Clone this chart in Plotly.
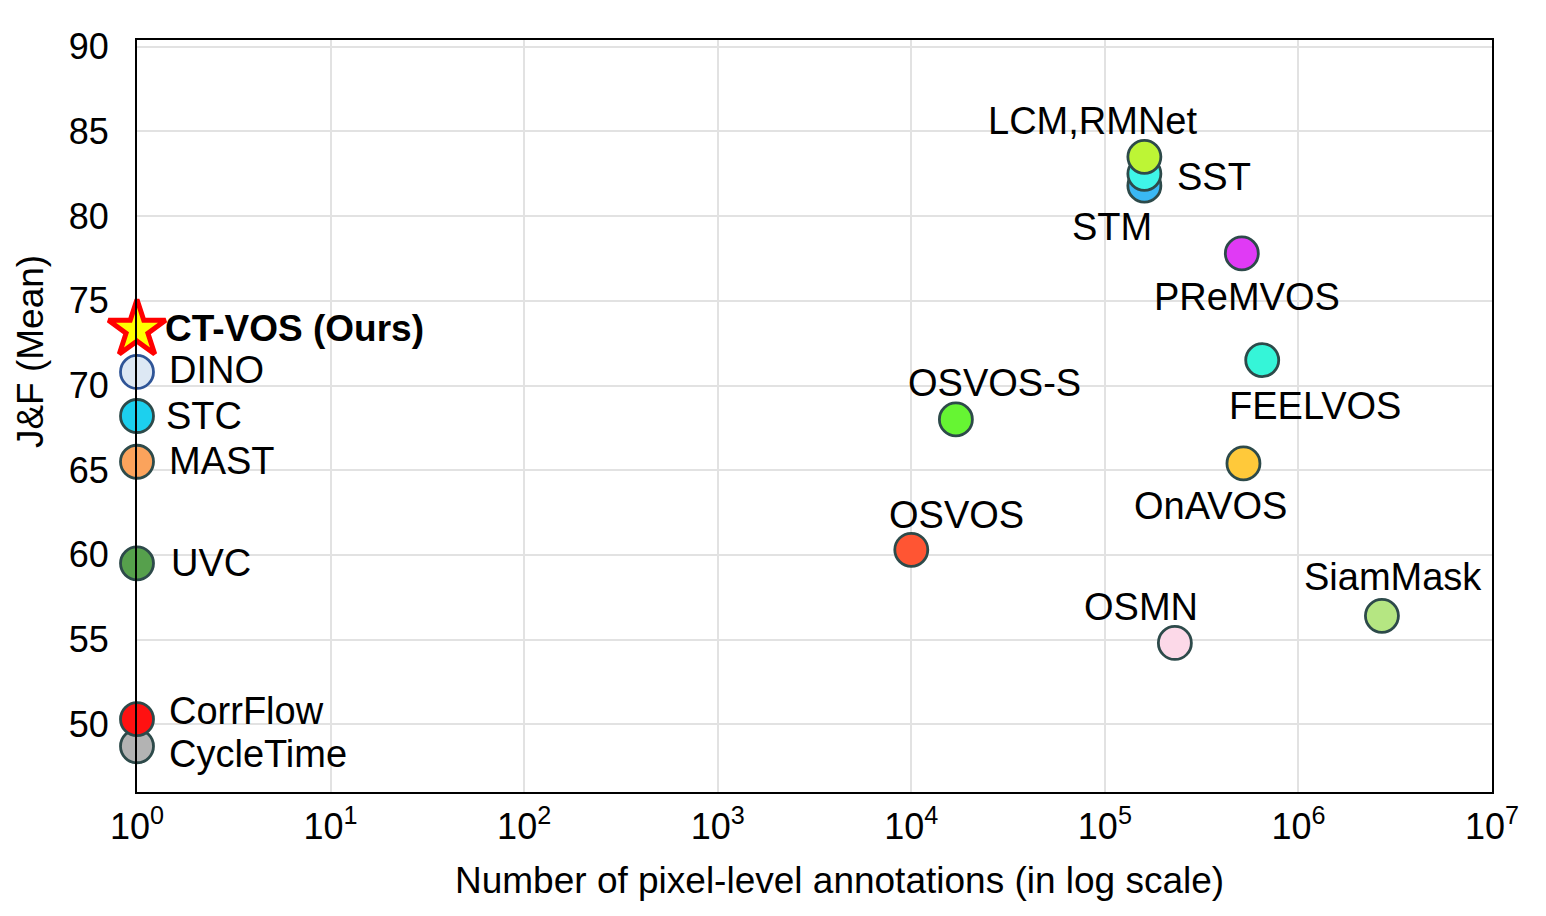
import math
import plotly.graph_objects as go

# methods drawn as circles (order = drawing order, later ones on top)
methods = ["CycleTime", "CorrFlow", "UVC", "MAST", "STC", "DINO",
           "OSVOS", "OSVOS-S", "OSMN", "STM", "SST", "LCM,RMNet",
           "OnAVOS", "PReMVOS", "FEELVOS", "SiamMask"]
n_annotations = [1, 1, 1, 1, 1, 1,
                 1e4, 1.7e4, 2.3e5, 1.6e5, 1.6e5, 1.6e5,
                 5.2e5, 5.1e5, 6.5e5, 2.7e6]
jf_mean = [48.7, 50.3, 59.5, 65.5, 68.2, 70.8,
           60.3, 68.0, 54.8, 81.8, 82.5, 83.5,
           65.4, 77.8, 71.5, 56.4]

ours_name = "CT-VOS (Ours)"
ours_annotations = [1]
ours_jf = [73.3]

x_ticks = [1, 10, 1e2, 1e3, 1e4, 1e5, 1e6, 1e7]
x_ticktext = ["10<sup>%d</sup>" % i for i in range(8)]
y_ticks = [50, 55, 60, 65, 70, 75, 80, 85, 90]

fill_colors = ["#b3b3b3", "#ff1111", "#56a04c", "#fba35c", "#1cd0ee", "#dde8f4",
               "#ff5533", "#66f533", "#fcd9e8", "#3ab8f5", "#3ff5e8", "#bdf535",
               "#ffc93a", "#e03af5", "#35f5d8", "#b5e682"]
edge_colors = ["#2d4a4a"] * 5 + ["#2f5597"] + ["#2d4a4a"] * 10

# label placement: (xshift, yshift, xanchor) in pixels relative to the point
label_style = {
    "CycleTime": (30, -8, "left"),
    "CorrFlow": (30, 8, "left"),
    "UVC": (32, 0, "left"),
    "MAST": (30, 1, "left"),
    "STC": (27, 0, "left"),
    "DINO": (30, 2, "left"),
    "OSVOS": (45, 35, "center"),
    "OSVOS-S": (39, 36, "center"),
    "OSMN": (-34, 36, "center"),
    "STM": (-32, -41, "center"),
    "SST": (31, -3, "left"),
    "LCM,RMNet": (-52, 36, "center"),
    "OnAVOS": (-33, -43, "center"),
    "PReMVOS": (5, -44, "center"),
    "FEELVOS": (53, -46, "center"),
    "SiamMask": (11, 39, "center"),
}

font_family = "Liberation Sans, Arial, sans-serif"

fig = go.Figure()

fig.add_trace(go.Scatter(
    x=n_annotations,
    y=jf_mean,
    mode="markers",
    marker=dict(size=33, color=fill_colors,
                line=dict(color=edge_colors, width=2.8)),
    cliponaxis=False,
    showlegend=False,
))

fig.add_trace(go.Scatter(
    x=ours_annotations,
    y=ours_jf,
    mode="markers",
    marker=dict(symbol="star", size=43, color="#ffff00",
                line=dict(color="#ff0000", width=5)),
    cliponaxis=False,
    showlegend=False,
))

# annotations on a log axis take log10 positions
annotations = []
for name, xv, yv in zip(methods, n_annotations, jf_mean):
    dx, dy, anchor = label_style[name]
    annotations.append(dict(
        x=math.log10(xv), y=yv, xref="x", yref="y", text=name, showarrow=False,
        xanchor=anchor, yanchor="middle", xshift=dx, yshift=dy,
        font=dict(size=38, color="black", family=font_family),
    ))

annotations.append(dict(
    x=math.log10(ours_annotations[0]), y=ours_jf[0], xref="x", yref="y",
    text="<b>" + ours_name + "</b>", showarrow=False,
    xanchor="left", yanchor="middle", xshift=26, yshift=1,
    font=dict(size=37, color="black", family=font_family),
))

# axis titles
annotations.append(dict(
    x=0.5, y=0, xref="paper", yref="paper",
    text="Number of pixel-level annotations (in log scale)", showarrow=False,
    xanchor="center", yanchor="middle", xshift=25, yshift=-88,
    font=dict(size=37, color="black", family=font_family),
))
annotations.append(dict(
    x=0, y=0.585, xref="paper", yref="paper",
    text="J&F (Mean)", showarrow=False, textangle=-90,
    xanchor="center", yanchor="middle", xshift=-107,
    font=dict(size=37, color="black", family=font_family),
))

fig.update_layout(
    width=1546,
    height=916,
    margin=dict(l=129, r=62, t=32, b=132, autoexpand=False),
    paper_bgcolor="white",
    plot_bgcolor="white",
    font=dict(family=font_family, size=36, color="black"),
    annotations=annotations,
    xaxis=dict(
        type="log",
        range=[0, 7],
        tickvals=x_ticks,
        ticktext=x_ticktext,
        showgrid=True,
        gridcolor="#e2e2e2",
        gridwidth=2,
        showline=True,
        linecolor="black",
        linewidth=2,
        mirror=True,
        zeroline=False,
        tickfont=dict(size=36),
        ticklabelstandoff=2,
    ),
    yaxis=dict(
        range=[46, 90.4],
        tickvals=y_ticks,
        showgrid=True,
        gridcolor="#e2e2e2",
        gridwidth=2,
        showline=True,
        linecolor="black",
        linewidth=2,
        mirror=True,
        zeroline=False,
        tickfont=dict(size=36),
        ticklabelstandoff=19,
    ),
)

fig.write_html("out.html")
